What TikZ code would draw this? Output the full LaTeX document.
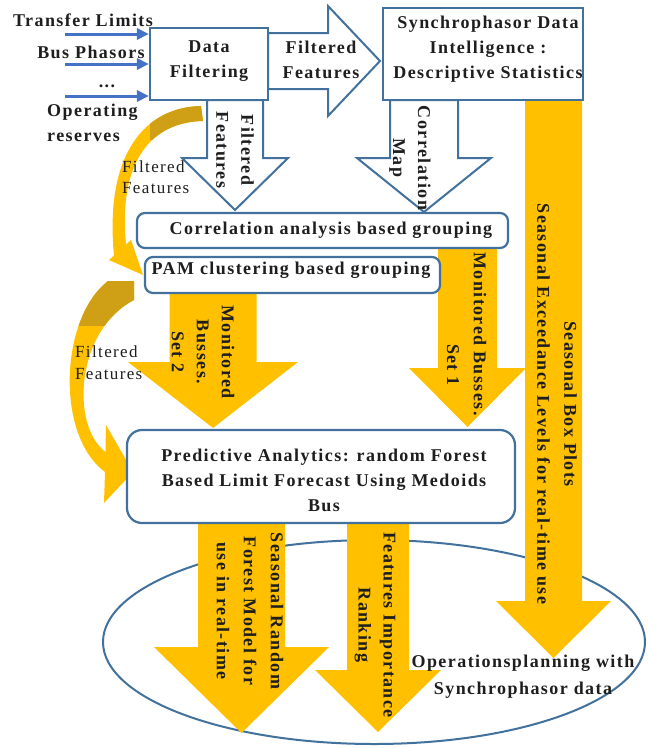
\documentclass[tikz,border=0pt]{standalone}
\usepackage{fontspec}
\setmainfont{Liberation Serif}[LetterSpace=8]
\usetikzlibrary{arrows.meta,shapes.geometric}

\definecolor{ink}{HTML}{1E1E1E}
\definecolor{edgeblue}{HTML}{41719C}
\definecolor{inblue}{HTML}{4472C4}
\definecolor{gold}{HTML}{FFC000}
\definecolor{darkgold}{HTML}{CFA016}

% downward block arrow: style, centre x, top y, head y, tip y, half shaft, half head
\newcommand{\downblock}[7]{%
  \path[#1] (#2-#6,#3) -- (#2+#6,#3) -- (#2+#6,#4) -- (#2+#7,#4) -- (#2,#5)
    -- (#2-#7,#4) -- (#2-#6,#4) -- cycle;}

\tikzset{
  box/.style={draw=edgeblue, line width=2.2pt, fill=white, inner sep=0pt},
  rbox/.style={box, rounded corners=8pt},
  txt/.style={text=ink, font=\fontsize{18}{25}\selectfont\bfseries, align=center, inner sep=0pt},
  vtxt/.style={txt, rotate=-90},
  wide/.style={font=\fontsize{18}{27}\selectfont\bfseries},
  small/.style={text=ink, font=\fontsize{17}{21}\selectfont, align=left, inner sep=0pt},
  bluearrow/.style={draw=edgeblue, line width=2pt, fill=white, line join=miter},
  goldarrow/.style={fill=gold},
  feed/.style={draw=inblue, line width=3pt, -{Triangle[length=12pt,width=11pt]}},
  bandone/.style={insert path={(201,106) .. controls (148,107) and (104,150) .. (114,255.5)
      -- (109,260) -- (143,275) -- (131,240) -- (126,244.5)
      .. controls (118,160) and (152,122) .. (203,121) -- cycle}},
  bandtwo/.style={insert path={(108,281) .. controls (60,318) and (55,435) .. (105,472)
      -- (104,503) -- (133,472) -- (106,425) -- (105.5,452)
      .. controls (70,425) and (76,330) .. (134,300) -- (134,281) -- cycle}},
}

\begin{document}
\begin{tikzpicture}[x=1pt,y=-1pt]
\useasboundingbox (0,0) rectangle (648,748);

% operations planning ellipse
\node[draw=edgeblue, line width=2pt, ellipse, minimum width=542pt, minimum height=204pt,
      inner sep=0pt] (ops) at (374,642) {};

% gold flow arrows
\downblock{goldarrow}{553.5}{100}{601}{658}{28.5}{57.5}
\downblock{goldarrow}{467.5}{248}{368}{427}{29.5}{58.5}
\downblock{goldarrow}{213}{293}{362}{428}{43.5}{85}
\downblock{goldarrow}{241.5}{523}{647}{733}{43.5}{87.5}
\downblock{goldarrow}{378}{523}{670}{732}{31}{63}

% curved feature arrows
\fill[gold, bandone];
\begin{scope}
  \clip[bandone];
  \fill[darkgold] (150,95) rectangle (215,140);
\end{scope}
\fill[gold, bandtwo];
\begin{scope}
  \clip[bandtwo];
  \fill[darkgold] (50,270) rectangle (140,326);
\end{scope}

% outlined block arrows
\path[bluearrow] (268,33) -- (328,33) -- (328,6) -- (380,61) -- (328,116)
  -- (328,89) -- (268,89) -- cycle;
\downblock{bluearrow}{235}{100}{158}{210}{28}{53}
\downblock{bluearrow}{424}{100}{158}{212}{34}{67}

% process boxes
\node[box, minimum width=118pt, minimum height=72pt] (df) at (209,64) {};
\node[box, minimum width=200pt, minimum height=92pt] (sd) at (483,54) {};
\node[rbox, minimum width=371pt, minimum height=35pt] (ca) at (322.5,230.5) {};
\node[rbox, minimum width=295pt, minimum height=36pt] (pam) at (292.5,275) {};
\node[box, rounded corners=15pt, minimum width=388pt, minimum height=93pt] (pa) at (321,476.5) {};

% data inputs
\coordinate (in1) at (65,34);
\coordinate (in2) at (65,64);
\coordinate (in3) at (65,96);
\draw[feed] (in1) -- (in1 -| df.west);
\draw[feed] (in2) -- (in2 -| df.west);
\draw[feed] (in3) -- (in3 -| df.west);

% labels
\node[txt] (t1) at (83,20) {Transfer Limits};
\node[txt] (t2) at (91,52) {Bus Phasors};
\node[txt] (t3) at (107,86) {...};
\node[txt, align=left, anchor=west] (t4) at (47,123) {Operating\\reserves};
\node[txt] (dft) at (209,61) {Data\\Filtering};
\node[txt] (rat) at (321,60) {Filtered\\Features};
\node[txt] (sdt) at (488,49) {Synchrophasor Data\\Intelligence :\\Descriptive Statistics};
\node[vtxt] (dfl) at (235,150) {Filtered\\Features};
\node[vtxt] (cml) at (410,158) {Correlation\\Map};
\node[small, anchor=west] (ff1) at (122,177) {Filtered\\Features};
\node[txt] (cat) at (331,230) {Correlation analysis based grouping};
\node[txt] (pamt) at (291,270) {PAM clustering based grouping};
\node[vtxt] (s2l) at (203,352) {Monitored\\Busses.\\Set 2};
\node[vtxt] (s1a) at (480,334) {Monitored Busses.};
\node[vtxt] (s1b) at (453,365) {Set 1};
\node[vtxt, wide] (sbl) at (557,404) {Seasonal Box Plots\\Seasonal Exceedance Levels for real-time use};
\node[small, font=\fontsize{17}{22}\selectfont, anchor=west] (ff2) at (75,363) {Filtered\\Features};
\node[txt] (pat) at (324,480) {Predictive Analytics: random Forest\\Based Limit Forecast Using Medoids\\Bus};
\node[vtxt, wide] (srl) at (250,611) {Seasonal Random\\Forest Model for\\use in real-time};
\node[vtxt] (fil) at (375,625) {Features Importance\\Ranking};
\node[txt, wide] (opt) at (523,677) {Operationsplanning with\\Synchrophasor data};
\end{tikzpicture}
\end{document}
